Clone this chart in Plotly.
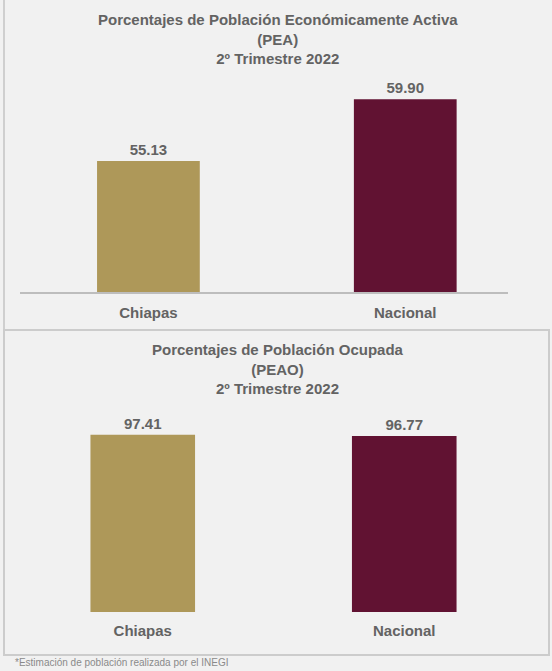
import plotly.graph_objects as go
from plotly.subplots import make_subplots

W, H = 552, 671

# Data
categorias = ["Chiapas", "Nacional"]
pea = [55.13, 59.90]
peao = [97.41, 96.77]
colores = ["#AE9859", "#611232"]

titulo_pea = "Porcentajes de Población Económicamente Activa<br>(PEA)<br>2º Trimestre 2022"
titulo_peao = "Porcentajes de Población Ocupada<br>(PEAO)<br>2º Trimestre 2022"
nota = "*Estimación de población realizada por el INEGI"

GRIS = "#636363"
FONT = "Liberation Sans, Arial, sans-serif"
FS = 15


def px_x(p):
    return p / W


def px_y(p):
    return 1 - p / H


fig = make_subplots(rows=2, cols=1)

for row, vals in ((1, pea), (2, peao)):
    fig.add_trace(
        go.Bar(
            x=categorias,
            y=vals,
            marker=dict(color=colores, line=dict(width=0)),
            width=0.40,
            text=[f"{v:.2f}" for v in vals],
            textposition="outside",
            textfont=dict(family=FONT, size=FS, color=GRIS, weight="bold"),
            cliponaxis=False,
            hoverinfo="skip",
            showlegend=False,
        ),
        row=row, col=1,
    )

# Axes: top panel
fig.update_xaxes(
    domain=[px_x(20), px_x(508)], range=[-0.5, 1.40],
    showline=True, linecolor="#bdbdbd", linewidth=2,
    ticks="", showgrid=False, zeroline=False,
    tickfont=dict(family=FONT, size=FS, color=GRIS, weight="bold"),
    ticklabelstandoff=6, row=1, col=1,
)
fig.update_yaxes(
    domain=[px_y(292), px_y(72)], range=[45, 62],
    visible=False, row=1, col=1,
)
# Axes: bottom panel
fig.update_xaxes(
    domain=[px_x(12), px_x(535)], range=[-0.5, 1.5],
    showline=False, ticks="", showgrid=False, zeroline=False,
    tickfont=dict(family=FONT, size=FS, color=GRIS, weight="bold"),
    ticklabelstandoff=8, row=2, col=1,
)
fig.update_yaxes(
    domain=[px_y(612), px_y(421)], range=[0, 105],
    visible=False, row=2, col=1,
)

# Panel frames
fig.add_shape(type="line", xref="paper", yref="paper",
              x0=px_x(4), x1=px_x(4), y0=px_y(0), y1=px_y(330),
              line=dict(color="#cfcfcf", width=2))
fig.add_shape(type="rect", xref="paper", yref="paper",
              x0=px_x(4), x1=px_x(549), y0=px_y(330), y1=px_y(655),
              line=dict(color="#cccccc", width=2), fillcolor="rgba(0,0,0,0)")

# Titles
for txt, y in ((titulo_pea, 39), (titulo_peao, 369)):
    fig.add_annotation(
        text=txt, xref="paper", yref="paper",
        x=px_x(278), y=px_y(y), showarrow=False,
        xanchor="center", yanchor="middle",
        font=dict(family=FONT, size=FS, color=GRIS, weight="bold"),
        align="center",
    )

fig.add_annotation(
    text=nota, xref="paper", yref="paper",
    x=px_x(13), y=px_y(662), showarrow=False,
    xanchor="left", yanchor="middle",
    font=dict(family=FONT, size=10, color="#8a8a8a"),
)

fig.update_layout(
    width=W, height=H,
    margin=dict(l=0, r=0, t=0, b=0),
    paper_bgcolor="#f1f1f1",
    plot_bgcolor="rgba(0,0,0,0)",
    bargap=0.6,
)

fig.write_html("out.html")
